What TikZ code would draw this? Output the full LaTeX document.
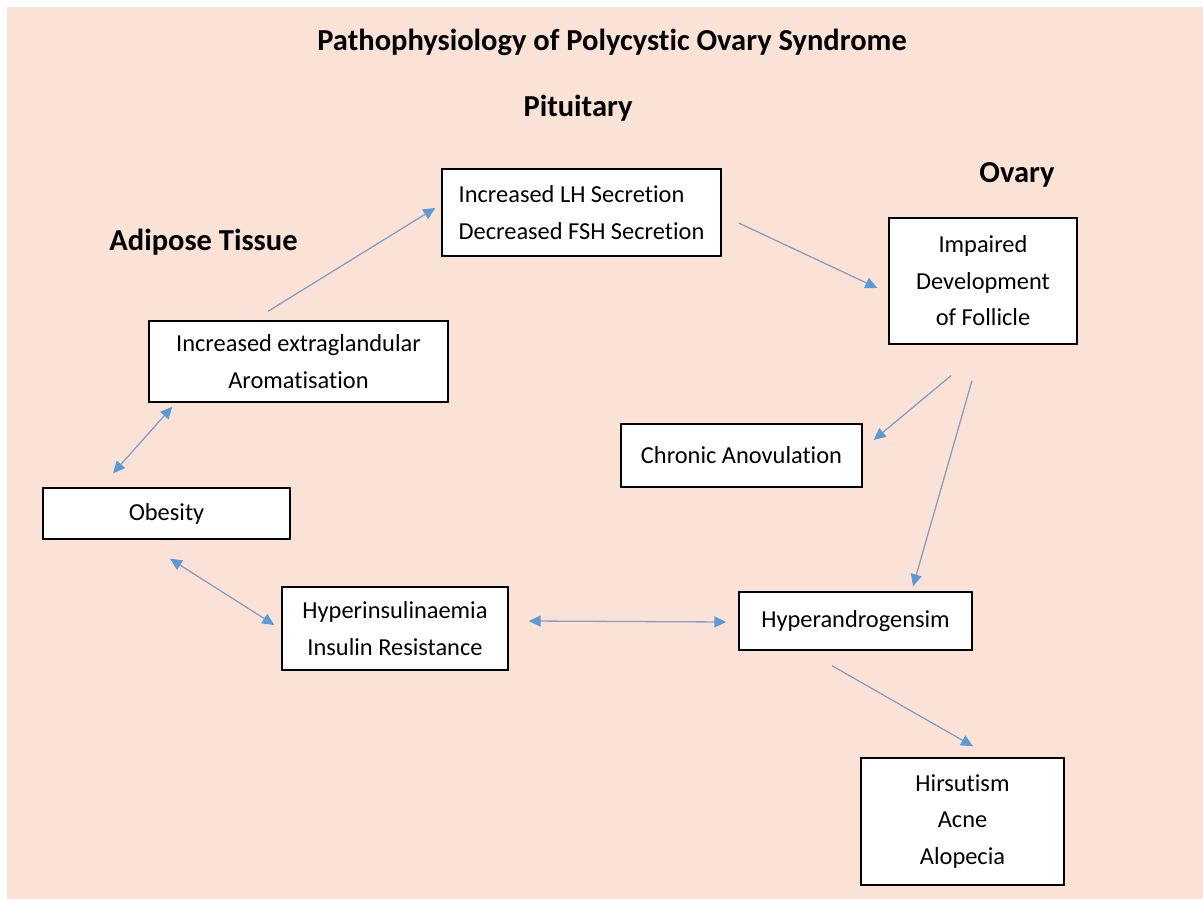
\documentclass[tikz,border=0pt]{standalone}
\usepackage{fontspec}
\setmainfont{Carlito}[Ligatures=NoCommon]
\usetikzlibrary{arrows.meta}
\definecolor{bg}{HTML}{FBE2D6}
\definecolor{arrline}{HTML}{869FC2}
\definecolor{arrhead}{HTML}{5B9BD5}
\begin{document}
\begin{tikzpicture}[x=1pt,y=-1pt,
  box/.style={draw=black, line width=1.4pt, fill=white, inner sep=0pt, align=center,
    font=\fontsize{24.4}{36.5}\selectfont},
  lbl/.style={font=\bfseries\fontsize{30.5}{34}\selectfont, inner sep=0pt},
  conn/.style={draw=arrline, line width=1.3pt, -{Triangle[length=12pt,width=11pt,color=arrhead]}},
  bconn/.style={draw=arrline, line width=1.3pt, {Triangle[length=12pt,width=11pt,color=arrhead]}-{Triangle[length=12pt,width=11pt,color=arrhead]}}
]
\useasboundingbox (0,0) rectangle (1203,899);
\fill[bg] (7,7) rectangle (1203,899);

\node[lbl] (title) at (612,42) {Pathophysiology of Polycystic Ovary Syndrome};
\node[lbl] (pit) at (578,108) {Pituitary};
\node[lbl] (ovl) at (1017,175) {Ovary};
\node[lbl] (adl) at (203.5,242) {Adipose Tissue};

\node[box, minimum width=279pt, minimum height=87pt, inner xsep=14.5pt, align=left] (lh) at (581.5,212.5)
  {Increased LH Secretion\\Decreased FSH Secretion};
\node[box, minimum width=188pt, minimum height=126pt] (ov) at (983,281)
  {Impaired\\Development\\of Follicle};
\node[box, minimum width=299pt, minimum height=81pt] (aro) at (298.5,361.5)
  {Increased extraglandular\\Aromatisation};
\node[box, minimum width=247pt, minimum height=51pt] (ob) at (166.5,513.5) {Obesity};
\node[box, minimum width=241pt, minimum height=63pt] (ca) at (741.5,455.5) {Chronic Anovulation};
\node[box, minimum width=226pt, minimum height=83pt] (hi) at (395,628.5)
  {Hyperinsulinaemia\\Insulin Resistance};
\node[box, minimum width=233pt, minimum height=58pt] (ha) at (855.5,621) {Hyperandrogensim};
\node[box, minimum width=203pt, minimum height=127pt] (hr) at (962.5,821.5)
  {Hirsutism\\Acne\\Alopecia};

\draw[conn] ([shift={(-30.5,-9)}]aro.north) -- ([shift={(-6,-4.5)}]lh.west);
\draw[conn] ([shift={(17,10.5)}]lh.east) -- ([shift={(-11,7)}]ov.west);
\draw[conn] ([shift={(-32,31)}]ov.south) -- ([shift={(11,-15.5)}]ca.east);
\draw[conn] ([shift={(-11,36)}]ov.south) -- ([shift={(57.5,-5)}]ha.north);
\draw[conn] ([shift={(-23.5,15)}]ha.south) -- ([shift={(10.5,-11)}]hr.north);
\draw[bconn] ([shift={(24,4)}]aro.south west) -- ([shift={(-53.5,-14)}]ob.north);
\draw[bconn] ([shift={(3.5,19)}]ob.south) -- ([shift={(-7,-3.5)}]hi.west);
\draw[bconn] ([shift={(20,-7.5)}]hi.east) -- ([shift={(-12,1)}]ha.west);
\end{tikzpicture}
\end{document}
